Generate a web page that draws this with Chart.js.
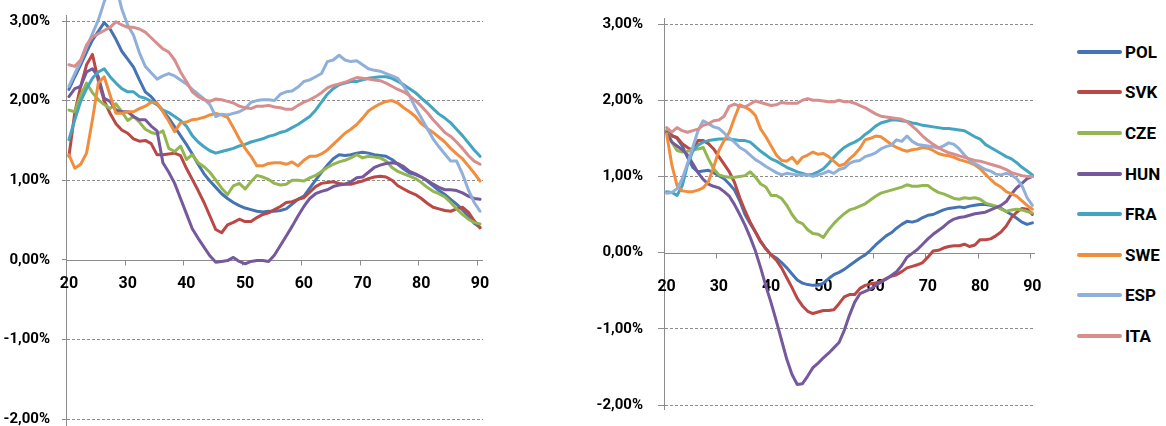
<!DOCTYPE html>
<html>
<head>
<meta charset="utf-8">
<script src="https://cdn.jsdelivr.net/npm/chart.js@4.4.1/dist/chart.umd.min.js"></script>
<style>
html,body{margin:0;padding:0;background:#fff;overflow:hidden;width:1166px;height:426px;}
canvas{position:absolute;top:0;}
#cL{left:0;}
#cR{left:580px;}
#legend{position:absolute;left:1077px;top:0;width:89px;height:426px;font-family:Roboto,"Liberation Sans",Arial,sans-serif;font-weight:bold;font-size:17px;color:#000;}
.item{position:absolute;left:0;height:20px;display:flex;align-items:center;white-space:nowrap;}
.swatch{width:45px;height:4px;border-radius:2px;margin-right:3px;}
</style>
</head>
<body>
<canvas id="cL" width="500" height="440"></canvas>
<canvas id="cR" width="470" height="440"></canvas>
<div id="legend"></div>
<script>
// ---- categories (age) ----
const ages = [20,21,22,23,24,25,26,27,28,29,30,31,32,33,34,35,36,37,38,39,40,41,42,43,44,45,46,47,48,49,50,51,52,53,54,55,56,57,58,59,60,61,62,63,64,65,66,67,68,69,70,71,72,73,74,75,76,77,78,79,80,81,82,83,84,85,86,87,88,89,90];
const xTickLabels = [20,30,40,50,60,70,80,90];
const yTickValues = [-2,-1,0,1,2,3];
const seriesNames = ['POL','SVK','CZE','HUN','FRA','SWE','ESP','ITA'];
const seriesColors = ['#4574B4','#BA4845','#93B651','#76599C','#43A5BF','#F08E3E','#90AFD9','#D78E8D'];

// ---- left panel values (%) ----
const leftPOL = [2.14,2.30,2.45,2.61,2.76,2.87,2.98,2.90,2.77,2.62,2.52,2.42,2.26,2.11,2.05,1.96,1.87,1.78,1.67,1.56,1.45,1.33,1.20,1.08,0.99,0.91,0.83,0.77,0.72,0.68,0.65,0.63,0.61,0.60,0.61,0.61,0.62,0.64,0.70,0.76,0.80,0.90,1.00,1.10,1.19,1.27,1.32,1.31,1.32,1.34,1.35,1.34,1.32,1.31,1.30,1.26,1.20,1.14,1.09,1.07,1.04,0.99,0.93,0.87,0.82,0.76,0.70,0.63,0.55,0.46,0.41];
const leftSVK = [1.30,1.85,2.18,2.45,2.58,2.25,2.00,1.84,1.71,1.63,1.59,1.52,1.49,1.50,1.46,1.32,1.32,1.33,1.34,1.31,1.15,1.01,0.87,0.72,0.55,0.38,0.34,0.44,0.47,0.51,0.48,0.48,0.53,0.57,0.59,0.63,0.67,0.72,0.73,0.76,0.78,0.85,0.92,0.96,0.97,0.98,0.96,0.95,0.95,0.97,0.99,1.02,1.04,1.05,1.04,1.00,0.93,0.89,0.85,0.82,0.77,0.71,0.66,0.64,0.62,0.61,0.64,0.66,0.60,0.49,0.40];
const leftCZE = [1.88,1.86,2.07,2.22,2.10,2.01,1.95,1.90,1.96,1.86,1.75,1.80,1.73,1.64,1.60,1.58,1.62,1.40,1.36,1.43,1.26,1.32,1.22,1.17,1.10,1.00,0.90,0.82,0.93,0.96,0.89,0.98,1.06,1.04,1.01,0.96,0.94,0.95,1.00,1.00,0.99,1.03,1.06,1.11,1.16,1.20,1.23,1.25,1.28,1.32,1.28,1.30,1.29,1.28,1.24,1.16,1.11,1.08,1.05,1.02,0.97,0.91,0.86,0.83,0.79,0.72,0.64,0.57,0.51,0.47,0.45];
const leftHUN = [2.05,2.15,2.18,2.36,2.40,2.30,2.03,1.99,1.88,1.86,1.86,1.80,1.76,1.76,1.68,1.62,1.22,1.10,0.96,0.77,0.58,0.39,0.27,0.16,0.05,-0.03,-0.02,-0.01,0.03,-0.02,-0.05,-0.02,-0.01,-0.01,-0.02,0.06,0.18,0.30,0.42,0.55,0.67,0.77,0.83,0.86,0.88,0.92,0.94,0.95,0.98,1.03,1.04,1.10,1.16,1.19,1.21,1.22,1.21,1.17,1.11,1.08,1.04,1.00,0.95,0.91,0.88,0.88,0.87,0.84,0.80,0.77,0.76];
const leftFRA = [1.51,1.76,1.99,2.15,2.28,2.36,2.40,2.30,2.22,2.15,2.11,2.11,2.05,2.03,1.99,1.95,1.88,1.85,1.80,1.75,1.68,1.56,1.48,1.42,1.37,1.34,1.36,1.38,1.40,1.43,1.45,1.48,1.50,1.52,1.55,1.57,1.60,1.62,1.66,1.70,1.75,1.80,1.88,1.98,2.08,2.15,2.20,2.22,2.24,2.24,2.26,2.28,2.29,2.30,2.30,2.28,2.24,2.20,2.15,2.10,2.03,1.97,1.90,1.83,1.78,1.72,1.64,1.56,1.47,1.38,1.30];
const leftSWE = [1.32,1.15,1.20,1.34,1.76,2.22,2.30,2.07,1.84,1.84,1.86,1.86,1.90,1.93,1.98,1.97,1.86,1.74,1.61,1.72,1.73,1.76,1.77,1.79,1.82,1.84,1.82,1.79,1.66,1.52,1.40,1.30,1.18,1.18,1.21,1.22,1.22,1.20,1.23,1.18,1.25,1.30,1.30,1.33,1.38,1.45,1.52,1.59,1.64,1.70,1.78,1.87,1.92,1.96,1.99,2.00,1.97,1.91,1.86,1.80,1.71,1.65,1.60,1.54,1.48,1.40,1.33,1.27,1.18,1.09,0.99];
const leftESP = [2.18,2.34,2.49,2.67,2.84,3.01,3.24,3.42,3.45,3.15,2.95,2.82,2.60,2.43,2.35,2.27,2.31,2.34,2.31,2.26,2.21,2.14,2.08,2.02,1.95,1.80,1.83,1.82,1.84,1.86,1.90,1.98,2.00,2.01,2.01,2.00,2.08,2.11,2.12,2.17,2.24,2.26,2.30,2.34,2.49,2.51,2.57,2.51,2.49,2.50,2.45,2.40,2.38,2.37,2.34,2.31,2.28,2.18,2.06,1.91,1.78,1.65,1.52,1.42,1.33,1.24,1.24,1.08,0.88,0.72,0.61];
const leftITA = [2.45,2.43,2.51,2.70,2.80,2.84,2.88,2.92,2.99,2.95,2.92,2.92,2.90,2.86,2.79,2.72,2.65,2.61,2.51,2.36,2.24,2.11,2.05,2.01,1.99,2.02,2.01,1.99,1.97,1.93,1.91,1.90,1.93,1.93,1.94,1.92,1.91,1.89,1.89,1.94,1.98,2.01,2.05,2.10,2.16,2.19,2.21,2.23,2.26,2.29,2.28,2.27,2.26,2.25,2.22,2.18,2.14,2.11,2.06,2.00,1.93,1.85,1.76,1.68,1.60,1.55,1.48,1.40,1.31,1.24,1.20];

// ---- right panel values (%) ----
const rightPOL = [1.60,1.54,1.50,1.40,1.25,1.12,1.06,1.07,1.08,1.05,1.01,0.97,0.90,0.82,0.68,0.50,0.38,0.27,0.15,0.05,-0.03,-0.07,-0.13,-0.20,-0.28,-0.36,-0.40,-0.42,-0.43,-0.43,-0.40,-0.34,-0.29,-0.26,-0.22,-0.17,-0.12,-0.07,-0.03,0.03,0.10,0.16,0.22,0.26,0.32,0.37,0.41,0.40,0.42,0.46,0.49,0.50,0.53,0.56,0.58,0.59,0.60,0.59,0.61,0.62,0.63,0.63,0.62,0.60,0.58,0.54,0.50,0.45,0.40,0.37,0.39];
const rightSVK = [1.58,1.53,1.51,1.43,1.38,1.34,1.47,1.47,1.43,1.36,1.26,1.16,1.06,0.92,0.72,0.55,0.40,0.27,0.14,0.05,-0.03,-0.10,-0.20,-0.33,-0.46,-0.60,-0.70,-0.77,-0.80,-0.78,-0.76,-0.76,-0.75,-0.67,-0.58,-0.55,-0.55,-0.47,-0.43,-0.41,-0.40,-0.38,-0.34,-0.31,-0.29,-0.25,-0.20,-0.18,-0.16,-0.13,-0.06,0.02,0.03,0.06,0.08,0.09,0.09,0.11,0.08,0.10,0.17,0.17,0.18,0.22,0.27,0.35,0.46,0.53,0.58,0.57,0.50];
const rightCZE = [1.60,1.45,1.34,1.32,1.33,1.35,1.36,1.38,1.23,1.10,1.02,1.00,0.99,0.99,1.00,1.01,1.06,0.99,0.90,0.86,0.75,0.75,0.71,0.62,0.50,0.41,0.38,0.30,0.25,0.24,0.20,0.30,0.38,0.45,0.51,0.56,0.58,0.61,0.64,0.69,0.74,0.78,0.80,0.82,0.84,0.86,0.89,0.87,0.87,0.88,0.88,0.83,0.79,0.77,0.74,0.71,0.70,0.72,0.71,0.72,0.70,0.65,0.63,0.61,0.57,0.54,0.56,0.57,0.56,0.54,0.52];
const rightHUN = [1.58,1.45,1.40,1.35,1.28,1.17,1.05,0.96,0.90,0.87,0.85,0.80,0.74,0.63,0.50,0.36,0.20,0.02,-0.20,-0.44,-0.66,-0.90,-1.15,-1.40,-1.60,-1.73,-1.72,-1.62,-1.51,-1.45,-1.38,-1.32,-1.25,-1.18,-1.02,-0.82,-0.65,-0.54,-0.51,-0.48,-0.43,-0.39,-0.35,-0.30,-0.25,-0.17,-0.06,-0.01,0.04,0.11,0.18,0.24,0.29,0.34,0.40,0.44,0.46,0.47,0.49,0.51,0.52,0.53,0.56,0.59,0.62,0.67,0.77,0.85,0.91,0.97,1.00];
const rightFRA = [0.80,0.79,0.75,0.88,1.15,1.33,1.41,1.45,1.47,1.48,1.49,1.49,1.49,1.48,1.47,1.47,1.45,1.39,1.33,1.28,1.23,1.20,1.16,1.12,1.09,1.06,1.04,1.02,1.03,1.06,1.10,1.17,1.25,1.32,1.38,1.42,1.45,1.49,1.55,1.60,1.66,1.70,1.72,1.74,1.74,1.73,1.72,1.70,1.69,1.67,1.66,1.65,1.64,1.63,1.63,1.62,1.61,1.60,1.56,1.52,1.49,1.42,1.38,1.34,1.30,1.26,1.23,1.18,1.12,1.07,1.02];
const rightSWE = [1.56,1.15,0.88,0.81,0.80,0.80,0.82,0.85,0.93,1.12,1.34,1.47,1.58,1.77,1.94,1.91,1.87,1.80,1.62,1.52,1.40,1.28,1.21,1.20,1.25,1.17,1.25,1.28,1.32,1.29,1.30,1.26,1.20,1.14,1.16,1.23,1.29,1.37,1.48,1.50,1.53,1.52,1.47,1.42,1.38,1.35,1.33,1.35,1.36,1.38,1.37,1.34,1.30,1.28,1.27,1.25,1.22,1.20,1.18,1.15,1.10,1.03,0.96,0.90,0.86,0.80,0.77,0.74,0.68,0.62,0.57];
const rightESP = [0.78,0.79,0.84,0.97,1.17,1.38,1.60,1.73,1.69,1.65,1.63,1.57,1.50,1.45,1.38,1.34,1.28,1.22,1.18,1.13,1.09,1.05,1.02,1.04,1.03,1.02,1.02,1.02,1.00,1.02,1.04,1.07,1.04,1.09,1.11,1.17,1.20,1.21,1.26,1.28,1.31,1.36,1.39,1.41,1.48,1.46,1.53,1.46,1.42,1.41,1.40,1.39,1.37,1.40,1.44,1.42,1.36,1.28,1.21,1.17,1.13,1.09,1.07,1.03,1.02,1.04,1.02,0.97,0.88,0.72,0.62];
const rightITA = [1.64,1.58,1.64,1.60,1.58,1.60,1.62,1.67,1.69,1.73,1.74,1.79,1.92,1.95,1.92,1.91,1.95,1.99,1.97,1.95,1.93,1.94,1.97,1.96,1.96,1.96,2.00,2.02,2.00,2.00,1.99,1.98,1.98,2.00,1.98,1.98,1.96,1.93,1.90,1.86,1.82,1.79,1.78,1.77,1.76,1.75,1.72,1.66,1.60,1.53,1.47,1.42,1.38,1.34,1.31,1.29,1.27,1.25,1.23,1.21,1.20,1.18,1.16,1.14,1.12,1.09,1.05,1.03,1.01,1.00,1.00];

const leftValues = [leftPOL,leftSVK,leftCZE,leftHUN,leftFRA,leftSWE,leftESP,leftITA];
const rightValues = [rightPOL,rightSVK,rightCZE,rightHUN,rightFRA,rightSWE,rightESP,rightITA];

// ---- drawing ----
const FONT = 'Roboto, "Liberation Sans", Arial, sans-serif';
const GRID = '#8c8c8c';
const pct = v => v.toFixed(2).replace('.', ',') + '%';

// category axis drawn where y = 0 (as in the original), using the chart's own x and y scales
const zeroAxis = {
  id: 'zeroAxis',
  beforeDatasetsDraw(chart, args, opts) {
    const {ctx, chartArea, scales} = chart;
    const xs = scales.x, ys = scales.y;
    const y0 = Math.round(ys.getPixelForValue(0)) + 0.5;
    const xl = Math.round(chartArea.left) + 0.5;
    ctx.save();
    ctx.strokeStyle = GRID;
    ctx.lineWidth = 1;
    ctx.beginPath();
    ctx.moveTo(xl, chartArea.top - opts.overTop);
    ctx.lineTo(xl, chartArea.top);
    ctx.moveTo(xl, chartArea.bottom);
    ctx.lineTo(xl, chartArea.bottom + opts.overBottom);
    ctx.moveTo(chartArea.left, y0);
    ctx.lineTo(chartArea.right, y0);
    xTickLabels.forEach(t => {
      const px = Math.round(xs.getPixelForValue(t - 0.5)) + 0.5;
      ctx.moveTo(px, y0);
      ctx.lineTo(px, y0 + 5);
    });
    ctx.stroke();
    ctx.fillStyle = '#000';
    ctx.font = 'bold 16px ' + FONT;
    ctx.textAlign = 'center';
    ctx.textBaseline = 'middle';
    xTickLabels.forEach(t => {
      ctx.fillText(String(t), xs.getPixelForValue(t - 0.5) + opts.labelOffset, y0 + opts.labelDy);
    });
    ctx.restore();
  }
};

function buildChart(canvasId, values, geo) {
  const datasets = seriesNames.map((name, i) => ({
    label: name,
    data: ages.map((a, j) => ({x: a, y: values[i][j]})),
    borderColor: seriesColors[i],
    backgroundColor: seriesColors[i],
    borderWidth: 3,
    pointRadius: 0,
    pointHoverRadius: 0,
    tension: 0,
    borderJoinStyle: 'round',
    borderCapStyle: 'round',
    clip: false,
    order: seriesNames.length - i
  }));
  return new Chart(document.getElementById(canvasId), {
    type: 'line',
    data: {datasets},
    plugins: [zeroAxis],
    options: {
      responsive: false,
      animation: false,
      events: [],
      layout: {padding: geo.padding},
      plugins: {
        legend: {display: false},
        tooltip: {enabled: false},
        zeroAxis: {labelOffset: geo.labelOffset, labelDy: geo.labelDy, overTop: 6, overBottom: geo.overBottom}
      },
      scales: {
        x: {
          type: 'linear',
          min: 19.5,
          max: 90.5,
          display: false
        },
        y: {
          type: 'linear',
          min: -2,
          max: 3,
          afterBuildTicks: s => { s.ticks = yTickValues.map(v => ({value: v})); },
          afterFit: s => { s.width = geo.yWidth; },
          ticks: {
            padding: geo.yPad,
            color: '#000',
            font: {family: FONT, size: 15, weight: 'bold'},
            callback: v => pct(v)
          },
          grid: {
            color: c => (c.tick && c.tick.value === 0) ? 'rgba(0,0,0,0)' : GRID,
            tickColor: GRID,
            tickLength: geo.yTick,
            lineWidth: 1
          },
          border: {display: true, color: GRID, width: 1, dash: [3, 2]}
        }
      }
    }
  });
}

buildChart('cL', leftValues, {
  padding: {top: 19, right: 17, bottom: 21, left: 0},
  yWidth: 66, yTick: 4, yPad: 12, labelOffset: 2.9, labelDy: 23, overBottom: 8
});
buildChart('cR', rightValues, {
  padding: {top: 20, right: 15, bottom: 35, left: 0},
  yWidth: 84, yTick: 6, yPad: 15, labelOffset: 2.6, labelDy: 33, overBottom: 5
});

// legend (series names and colours from the arrays above)
const legend = document.getElementById('legend');
seriesNames.forEach((name, i) => {
  const item = document.createElement('div');
  item.className = 'item';
  item.style.top = (41.7 + 40.6 * i) + 'px';
  const sw = document.createElement('span');
  sw.className = 'swatch';
  sw.style.background = seriesColors[i];
  const tx = document.createElement('span');
  tx.textContent = name;
  item.appendChild(sw);
  item.appendChild(tx);
  legend.appendChild(item);
});
</script>
</body>
</html>
